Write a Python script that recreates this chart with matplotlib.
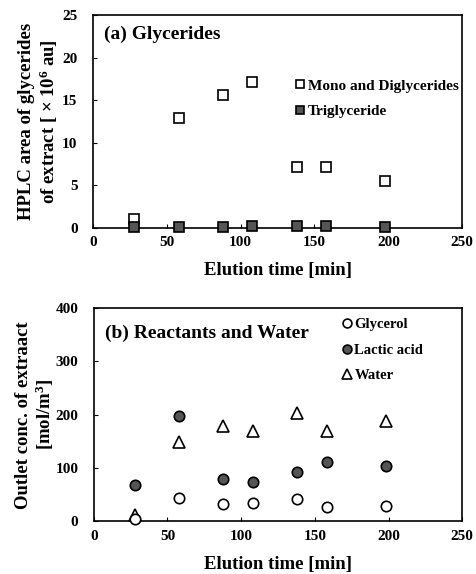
import numpy as np
import matplotlib
matplotlib.use("Agg")
import matplotlib.pyplot as plt

# ---------- DATA ----------
time_a = [28, 58, 88, 108, 138, 158, 198]
mono_di = [1.0, 12.9, 15.6, 17.1, 7.1, 7.1, 5.5]
trigly = [0.05, 0.15, 0.15, 0.2, 0.2, 0.2, 0.15]

time_b = [28, 58, 88, 108, 138, 158, 198]
glycerol = [4, 44, 33, 35, 41, 26, 28]
lactic = [68, 197, 79, 73, 93, 111, 103]
water = [12, 149, 179, 169, 203, 170, 189]
# --------------------------

plt.rcParams['font.family'] = ['Liberation Serif', 'DejaVu Serif']
plt.rcParams['font.weight'] = 'bold'
plt.rcParams['mathtext.fontset'] = 'custom'
plt.rcParams['mathtext.rm'] = 'Liberation Serif:bold'
plt.rcParams['mathtext.default'] = 'rm'

DARK = '#555555'
MS = 7.5
LAB = 13.5

fig = plt.figure(figsize=(4.76, 5.74), dpi=100)
ax1 = fig.add_axes([0.195, 0.603, 0.776, 0.371])
ax2 = fig.add_axes([0.197, 0.092, 0.774, 0.371])

ax1.plot(time_a, mono_di, 's', ms=MS, mfc='white', mec='black', mew=1.2,
         label='Mono and Diglycerides', clip_on=False, zorder=3)
ax1.plot(time_a, trigly, 's', ms=MS, mfc=DARK, mec='black', mew=1.2,
         label='Triglyceride', clip_on=False, zorder=4)
ax1.set_xlim(0, 250)
ax1.set_ylim(0, 25)
ax1.set_xticks([0, 50, 100, 150, 200, 250])
ax1.set_yticks([0, 5, 10, 15, 20, 25])
ax1.set_xlabel('Elution time [min]', fontsize=LAB, fontweight='bold')
ax1.xaxis.set_label_coords(0.5, -0.16)
ax1.set_ylabel('HPLC area of glycerides\nof extract [ × 10$^{6}$ au]',
               fontsize=LAB, fontweight='bold', linespacing=1.1)
ax1.yaxis.set_label_coords(-0.09, 0.5)
ax1.text(0.03, 0.91, '(a) Glycerides', transform=ax1.transAxes,
         fontsize=14, fontweight='bold', va='center')
ax1.legend(loc='upper left', bbox_to_anchor=(0.54, 0.70), frameon=False,
           handletextpad=0.0, handlelength=1.0, borderaxespad=0, borderpad=0,
           labelspacing=0.8, prop={'size': 11, 'weight': 'bold'},
           markerscale=0.85)

ax2.plot(time_b, glycerol, 'o', ms=MS, mfc='white', mec='black', mew=1.2,
         label='Glycerol', clip_on=False, zorder=4)
ax2.plot(time_b, lactic, 'o', ms=MS, mfc=DARK, mec='black', mew=1.2,
         label='Lactic acid', clip_on=False, zorder=3)
ax2.plot(time_b, water, '^', ms=MS + 1, mfc='white', mec='black', mew=1.2,
         label='Water', clip_on=False, zorder=3)
ax2.set_xlim(0, 250)
ax2.set_ylim(0, 400)
ax2.set_xticks([0, 50, 100, 150, 200, 250])
ax2.set_yticks([0, 100, 200, 300, 400])
ax2.set_xlabel('Elution time [min]', fontsize=LAB, fontweight='bold')
ax2.xaxis.set_label_coords(0.5, -0.165)
ax2.set_ylabel('Outlet conc. of extraact\n[mol/m$^{3}$]',
               fontsize=LAB, fontweight='bold', linespacing=1.1)
ax2.yaxis.set_label_coords(-0.1015, 0.5)
ax2.text(0.03, 0.88, '(b) Reactants and Water', transform=ax2.transAxes,
         fontsize=14, fontweight='bold', va='center')
ax2.legend(loc='upper left', bbox_to_anchor=(0.668, 0.955), frameon=False,
           handletextpad=0.0, handlelength=1.0, borderaxespad=0, borderpad=0,
           labelspacing=0.85, prop={'size': 10.5, 'weight': 'bold'},
           markerscale=0.85)

for ax in (ax1, ax2):
    ax.tick_params(direction='in', length=3, width=0.8, labelsize=11)
    ax.tick_params(axis='x', pad=6)
    ax.tick_params(axis='y', pad=11)
    for sp in ax.spines.values():
        sp.set_linewidth(1.2)
    for lab in ax.get_xticklabels() + ax.get_yticklabels():
        lab.set_fontweight('bold')

fig.savefig('out.png', dpi=100)
